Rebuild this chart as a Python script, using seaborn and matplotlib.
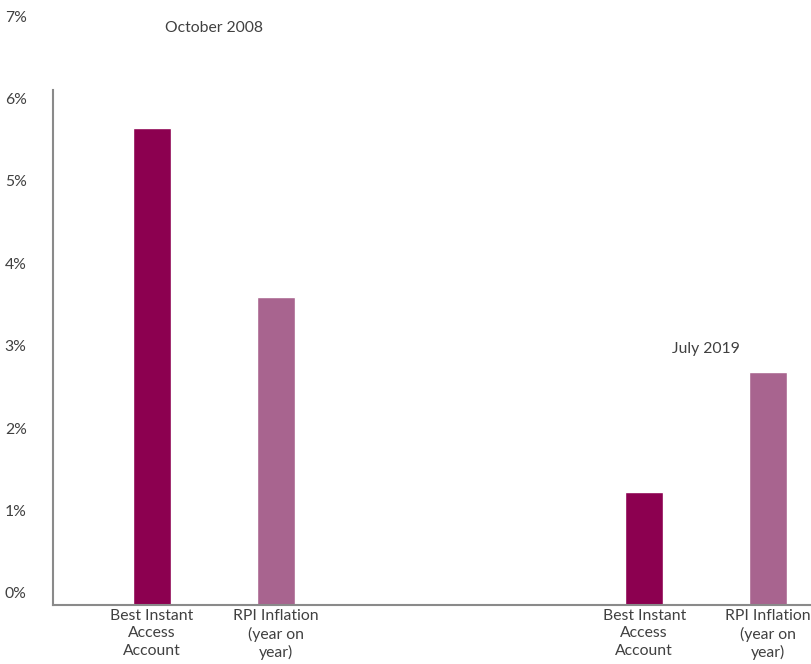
import pandas as pd
import matplotlib.pyplot as plt
import matplotlib.transforms as mtransforms
import seaborn as sns

# --- data ---
periods = ["October 2008", "July 2019"]
series = ["Best Instant Access Account", "RPI Inflation (year on year)"]
best_instant = [5.79, 1.37]
rpi_inflation = [3.74, 2.83]
bar_labels = ["Best Instant\nAccess\nAccount", "RPI Inflation\n(year on\nyear)"]
period_label_y = [7.0, 3.1]
y_ticks = [0, 1, 2, 3, 4, 5, 6, 7]

colors = {series[0]: "#8C0050", series[1]: "#A8648F"}

df = pd.DataFrame({
    "period": periods * 2,
    "series": [series[0]] * 2 + [series[1]] * 2,
    "value": best_instant + rpi_inflation,
})

sns.set_style("white")
plt.rcParams["font.family"] = ["Lato", "DejaVu Sans"]
text_color = "#404040"
fs = 11.3

fig = plt.figure(figsize=(8.11, 6.64), dpi=100)
ax = fig.add_axes([53 / 811, 59 / 664, 758 / 811, 577 / 664])

sns.barplot(data=df, x="period", y="value", hue="series", order=periods,
            hue_order=series, palette=colors, width=0.504, gap=0.69,
            saturation=1, legend=False, ax=ax)

ax.set_xlim(-0.327, 1.213)
ax.set_ylim(0, 7)
ax.set_xlabel("")
ax.set_ylabel("")

# y ticks: labels sit a little above their gridline in the original
ax.set_yticks(y_ticks)
ax.set_yticklabels([f"{t}%" for t in y_ticks], fontsize=fs, color=text_color)
ax.tick_params(axis="y", length=0, pad=19)
offset = mtransforms.ScaledTranslation(0, 12 / 100, fig.dpi_scale_trans)
for lab in ax.get_yticklabels():
    lab.set_transform(lab.get_transform() + offset)

# x labels under each bar
ax.set_xticks([])
for i, p in enumerate(ax.patches[:4]):
    cx = p.get_x() + p.get_width() / 2
    ax.text(cx, -0.05, bar_labels[i // 2], ha="center", va="top",
            fontsize=fs, color=text_color, linespacing=1.3, clip_on=False)

# period titles
for i, name in enumerate(periods):
    ax.text(i, period_label_y[i], name, ha="center", va="center",
            fontsize=fs, color=text_color)

for side in ["top", "right"]:
    ax.spines[side].set_visible(False)
ax.spines["left"].set_color("#8a8a8a")
ax.spines["left"].set_linewidth(1.5)
ax.spines["left"].set_bounds(0, 6.25)
ax.spines["bottom"].set_color("#8a8a8a")
ax.spines["bottom"].set_linewidth(1.5)

fig.savefig("out.png", dpi=100)
